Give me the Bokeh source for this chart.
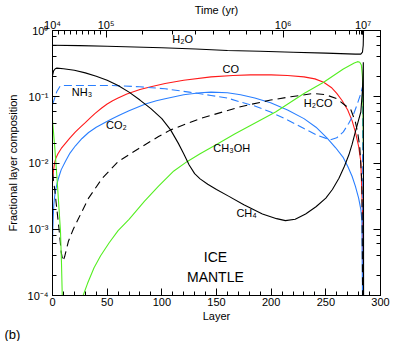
from bokeh.plotting import figure
from bokeh.models import (LinearAxis, LogAxis, FixedTicker, SingleIntervalTicker, LogTicker,
                          CustomJSTickFormatter, Label, Range1d, Title)
from bokeh.embed import file_html
from bokeh.resources import INLINE

# ---------------- data: layer and log10(fractional composition) --------
h2o_layer = [0, 25, 50, 75, 100, 131, 160, 190, 220, 250, 277, 282, 283.5, 284.2, 284.6]
h2o_log   = [-0.222, -0.229, -0.237, -0.248, -0.260, -0.280, -0.301, -0.314, -0.328, -0.342,
             -0.357, -0.357, -0.328, -0.222, 0.08]

co_layer = [0, 0.5, 1, 2, 3, 5, 8, 12, 16, 21, 26, 30, 35, 39, 45, 50, 55, 60, 68, 80, 90, 103,
            120, 145, 165, 181, 200, 215, 230, 240, 248, 255, 260, 265, 270, 274, 277, 280, 282,
            283.5, 284.2]
co_log   = [-2.30, -2.18, -2.10, -1.99, -1.93, -1.86, -1.78, -1.70, -1.62, -1.53, -1.45, -1.39,
            -1.31, -1.25, -1.17, -1.11, -1.06, -1.02, -0.96, -0.89, -0.85, -0.80, -0.75, -0.70,
            -0.68, -0.67, -0.67, -0.68, -0.70, -0.73, -0.78, -0.86, -0.95, -1.06, -1.20, -1.36,
            -1.53, -1.75, -1.98, -2.73, -5.0]

co2_layer = [0, 0.3, 0.7, 1.2, 2, 3, 4.3, 6, 8, 12, 16, 21, 27, 33, 40, 48, 55, 62, 70, 85, 95,
             103, 120, 135, 145, 160, 172, 185, 199.5, 215, 230, 241, 251, 259, 266, 270, 274,
             277, 280, 282, 283, 284]
co2_log   = [-3.20, -3.00, -2.80, -2.63, -2.50, -2.40, -2.30, -2.20, -2.10, -1.97, -1.85, -1.74,
             -1.63, -1.54, -1.46, -1.39, -1.33, -1.27, -1.21, -1.11, -1.06, -1.03, -0.97, -0.94,
             -0.93, -0.94, -0.97, -1.02, -1.09, -1.20, -1.33, -1.46, -1.62, -1.77, -1.92, -2.05,
             -2.20, -2.35, -2.53, -2.70, -2.88, -5.0]

nh3_layer = [0, 2, 4, 7, 10, 30, 55, 80, 103, 125, 145, 160, 172, 185, 199.5, 215, 230, 242, 254,
             260, 266, 271, 275, 279, 282, 283.5, 284.2]
nh3_log   = [-1.12, -1.02, -0.92, -0.84, -0.83, -0.83, -0.83, -0.85, -0.88, -0.93, -0.98, -1.02,
             -1.08, -1.14, -1.23, -1.35, -1.48, -1.58, -1.65, -1.62, -1.53, -1.40, -1.28, -1.10,
             -0.95, -0.85, -5.0]

h2co_layer = [0, 2, 4, 6, 8, 9.5, 11, 14.6, 19, 24, 33, 45.5, 60, 79, 97, 108, 135, 172, 199.5,
              218, 239, 250, 260, 267, 273, 277, 279, 281, 283, 284]
h2co_log   = [-2.15, -2.40, -2.70, -3.00, -3.35, -3.48, -3.42, -3.18, -3.00, -2.83, -2.53, -2.23,
              -1.98, -1.78, -1.60, -1.50, -1.33, -1.15, -1.05, -1.00, -0.95, -0.97, -1.03, -1.12,
              -1.20, -1.38, -1.53, -1.75, -2.30, -5.0]

ch3oh_a_layer = [0, 2, 4, 6, 7.3, 8.2, 9, 9.5]
ch3oh_a_log   = [-1.35, -1.75, -2.20, -2.70, -3.03, -3.50, -4.05, -4.50]
ch3oh_layer = [27, 28, 32, 38, 44, 52, 60, 70, 84, 97, 111, 123, 135, 150, 167, 204, 230, 248,
               266, 276, 279, 281, 282.5, 283.5, 284, 284.3]
ch3oh_log   = [-4.10, -4.00, -3.82, -3.58, -3.40, -3.20, -3.02, -2.85, -2.58, -2.35, -2.12,
               -1.98, -1.86, -1.72, -1.56, -1.23, -0.95, -0.78, -0.58, -0.49, -0.47, -0.48,
               -0.52, -0.70, -1.20, -1.80]

ch4_layer = [0, 1, 2.5, 4, 10, 20, 30, 40, 50, 60, 70, 80, 90, 100, 108, 115, 120, 125, 130, 135,
             142, 150, 161, 175, 192, 205, 213, 222, 231.5, 241, 250, 256, 262, 267, 271, 274,
             277, 280, 282, 283.5, 284.3, 284.6]
ch4_log   = [-0.68, -0.61, -0.577, -0.568, -0.577, -0.60, -0.64, -0.69, -0.75, -0.83, -0.93,
             -1.05, -1.18, -1.33, -1.50, -1.70, -1.86, -2.03, -2.16, -2.24, -2.32, -2.40, -2.50,
             -2.63, -2.77, -2.84, -2.87, -2.85, -2.77, -2.66, -2.53, -2.40, -2.23, -2.05, -1.88,
             -1.72, -1.53, -1.35, -1.23, -0.90, -0.48, -5.0]

# top axis: time (yr) ticks at layer positions
time_tick_layers = [0, 49, 211, 284]
time_tick_labels = ["10\u2074", "10\u2075", "10\u2076", "10\u2077"]
time_minor_layers = [5.4, 10.9, 16.3, 21.8, 27.2, 32.7, 38.1, 43.6,
                     82, 110, 131, 147, 162, 177, 190, 201,
                     236, 259, 272, 278, 281, 282.5, 283.3, 283.7]

labels = [("H\u2082O", 119, -0.13), ("CO", 163, -0.58), ("NH\u2083", 27, -0.93),
          ("CO\u2082", 58.5, -1.42), ("H\u2082CO", 243, -1.09), ("CH\u2083OH", 164, -1.78),
          ("CH\u2084", 177.5, -2.76), ("ICE", 149, -3.42), ("MANTLE", 149, -3.72)]

RED = "#ff1a1a"
BLUE = "#2a7fff"
GREEN = "#55ee22"
FONT = "Liberation Sans"

def lin(logs):
    return [10 ** v for v in logs]

p = figure(width=395, height=341, x_range=Range1d(0, 300), y_range=Range1d(1e-4, 1),
           y_axis_type="log", output_backend="svg", toolbar_location=None,
           min_border_left=52, min_border_right=15, min_border_top=28, min_border_bottom=46)
p.grid.visible = False
p.outline_line_color = "black"
p.outline_line_width = 1
p.background_fill_color = "white"
p.border_fill_color = "white"

def style_axis(ax):
    ax.major_tick_in = 7
    ax.major_tick_out = 0
    ax.minor_tick_in = 4
    ax.minor_tick_out = 0
    ax.axis_line_color = "black"
    ax.major_tick_line_color = "black"
    ax.minor_tick_line_color = "black"
    ax.major_label_text_font = FONT
    ax.major_label_text_font_size = "11px"
    ax.major_label_text_color = "black"
    ax.axis_label_text_font = FONT
    ax.axis_label_text_font_size = "11px"
    ax.axis_label_text_font_style = "normal"
    ax.axis_label_text_color = "black"
    ax.major_label_standoff = 4

sup_fmt = CustomJSTickFormatter(code="""
const e = Math.round(Math.log10(tick));
const sup = {'-':'\u207b','0':'\u2070','1':'\u00b9','2':'\u00b2','3':'\u00b3','4':'\u2074','5':'\u2075'};
return '10' + String(e).split('').map(c => sup[c]).join('');
""")

xa = p.xaxis[0]
xa.ticker = SingleIntervalTicker(interval=50, num_minor_ticks=5)
xa.axis_label = "Layer"
style_axis(xa)
xa.major_label_standoff = 2
xa.axis_label_standoff = 1

ya = p.yaxis[0]
ya.ticker = LogTicker()
ya.formatter = sup_fmt
ya.axis_label = "Fractional layer composition"
style_axis(ya)
ya.axis_label_standoff = 6

top = LinearAxis(ticker=FixedTicker(ticks=time_tick_layers, minor_ticks=time_minor_layers),
                 major_label_overrides={k: v for k, v in zip(time_tick_layers, time_tick_labels)},
                 axis_label="Time (yr)")
style_axis(top)
top.major_label_standoff = 0
top.axis_label_standoff = 0
p.add_layout(top, "above")

right = LogAxis(ticker=LogTicker(),
                formatter=CustomJSTickFormatter(code="return '';"))
style_axis(right)
right.major_label_standoff = 0
p.add_layout(right, "right")

# panel tag "(b)" below the x axis, left aligned
p.add_layout(Title(text="(b)", align="left", offset=-48, standoff=0, text_font=FONT,
                   text_font_size="13px", text_font_style="normal", text_color="black"),
             "below")

lw = 1.1
p.line(h2o_layer, lin(h2o_log), line_color="black", line_width=lw)
p.line(co_layer, lin(co_log), line_color=RED, line_width=lw)
p.line(co2_layer, lin(co2_log), line_color=BLUE, line_width=lw)
p.line(nh3_layer, lin(nh3_log), line_color=BLUE, line_width=lw, line_dash="8 4")
p.line(h2co_layer, lin(h2co_log), line_color="black", line_width=lw, line_dash="8 5")
p.line(ch3oh_a_layer, lin(ch3oh_a_log), line_color=GREEN, line_width=lw)
p.line(ch3oh_layer, lin(ch3oh_log), line_color=GREEN, line_width=lw)
p.line(ch4_layer, lin(ch4_log), line_color="black", line_width=lw)

for txt, lx, ly in labels:
    size = "14px" if txt in ("ICE", "MANTLE") else "11px"
    p.add_layout(Label(x=lx, y=10 ** ly, text=txt, text_align="center", text_baseline="middle",
                       text_font=FONT, text_font_size=size, text_color="black"))

open("out.html", "w").write(file_html(p, INLINE))
